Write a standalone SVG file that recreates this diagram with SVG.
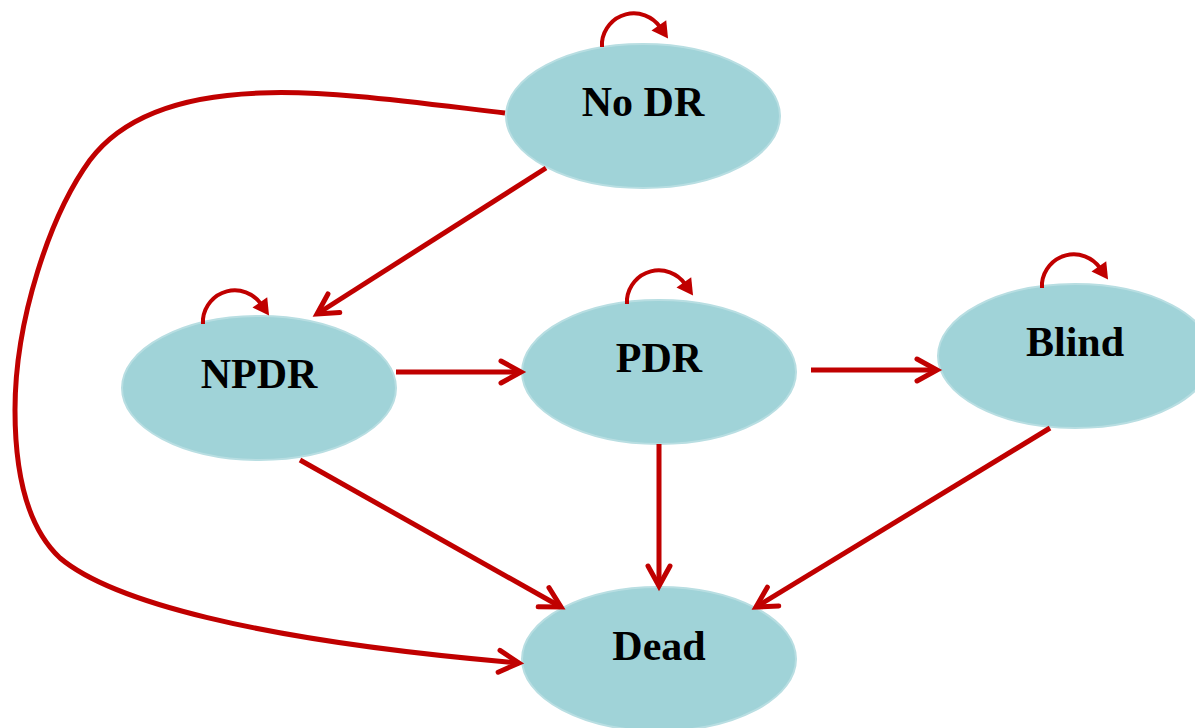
<svg xmlns="http://www.w3.org/2000/svg" width="1195" height="728" viewBox="0 0 1195 728">
<style>
.node{fill:#A0D3D8;stroke:#B8DEE2;stroke-width:2}
.lbl{font-family:"Liberation Serif",serif;font-weight:bold;font-size:42px;fill:#000;text-anchor:middle}
.edge{fill:none;stroke:#C00000;stroke-width:5}
.loop{fill:none;stroke:#C00000;stroke-width:4}
</style>
<defs>
<marker id="chev" markerUnits="userSpaceOnUse" viewBox="-30 -20 40 40" markerWidth="40" markerHeight="40" refX="0" refY="0" orient="auto">
<path d="M-20,-11 L0,0 L-20,11" fill="none" stroke="#C00000" stroke-width="5" stroke-linecap="round" stroke-linejoin="miter"/>
</marker>
<marker id="tri" markerUnits="userSpaceOnUse" viewBox="-5 -10 25 20" markerWidth="25" markerHeight="20" refX="2" refY="0" orient="auto">
<path d="M0,-9 L16,0 L0,9 z" fill="#C00000"/>
</marker>
</defs>
<g id="nodes">
<g id="noDR"><ellipse class="node" cx="643" cy="116" rx="137" ry="72"/><text class="lbl" x="643" y="116">No DR</text></g>
<g id="NPDR"><ellipse class="node" cx="259" cy="388" rx="137" ry="72"/><text class="lbl" x="259" y="388">NPDR</text></g>
<g id="PDR"><ellipse class="node" cx="659" cy="372" rx="137" ry="72"/><text class="lbl" x="659" y="372">PDR</text></g>
<g id="Blind"><ellipse class="node" cx="1075" cy="356" rx="137" ry="72"/><text class="lbl" x="1075" y="356">Blind</text></g>
<g id="Dead"><ellipse class="node" cx="659" cy="659" rx="137" ry="72"/><text class="lbl" x="659" y="660">Dead</text></g>
</g>
<g id="connectors">
<line class="edge" x1="546" y1="168" x2="317" y2="314" marker-end="url(#chev)"/>
<line class="edge" x1="396" y1="372" x2="521" y2="372" marker-end="url(#chev)"/>
<line class="edge" x1="811" y1="370" x2="937" y2="370" marker-end="url(#chev)"/>
<line class="edge" x1="300" y1="460" x2="561" y2="607" marker-end="url(#chev)"/>
<line class="edge" x1="659" y1="444" x2="659" y2="586" marker-end="url(#chev)"/>
<line class="edge" x1="1050" y1="428" x2="756" y2="607" marker-end="url(#chev)"/>
<path class="edge" d="M505,113 C420,103 330,90 260,93 C175,96 120,120 90,160 C50,215 15,320 15,410 C15,480 30,530 60,558 C110,600 250,640 519,663" marker-end="url(#chev)"/>
<path class="loop" d="M602,47 L602,42 A32,32 0 0 1 660,27" marker-end="url(#tri)"/>
<path class="loop" d="M203,324 L203,319 A32,32 0 0 1 261,304" marker-end="url(#tri)"/>
<path class="loop" d="M627,304 L627,299 A32,32 0 0 1 685,284" marker-end="url(#tri)"/>
<path class="loop" d="M1042,288 L1042,283 A32,32 0 0 1 1100,268" marker-end="url(#tri)"/>
</g>
</svg>
